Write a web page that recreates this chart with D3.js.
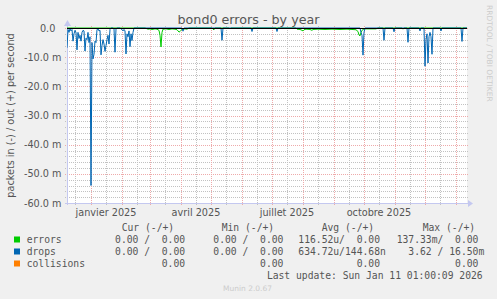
<!DOCTYPE html>
<html>
<head>
<meta charset="utf-8">
<script src="https://cdn.jsdelivr.net/npm/d3@7"></script>
<style>
  body { margin: 0; background: #f0f0f0; }
  svg text { white-space: pre; }
</style>
</head>
<body>
<div id="app"></div>
<script>
// graph covers 400 days, one value per day (milli packets / s)
const startDate = new Date(Date.UTC(2024, 11, 8, 1));
const totalDays = 400;

// drops (in, drawn negative)
const dropsDays = [0,1,2,3,4,5,6,7,8,9,10,11,12,13,14,15,16,17,18,19,20,21,22,23,24,25,26,27,28,29,
  30,31,32,33,34,35,36,37,38,39,40,41,42,43,44,46,47,48,49,50,53,54,55,56,57,58,59,60,61,62,63,64,65,66,67,
  115,116,117,154,155,156,184,185,186,209,210,211,293,294,295,296,297,298,316,317,318,326,327,328,
  340,341,342,352,353,354,357,358,359,360,361,362,363,364,365,366,373,374,375,394,395,396,400];
const dropsIn = [-6.8,-0.5,-1.5,-0.3,-1,-0.5,-4.5,-2,-0.8,-1.5,-7.5,-1.5,-3.6,-2.5,-4.5,-1.5,-0.8,-1,-7.9,-3.5,
  -4,-1.5,-5,-3,-54,-5,-10.6,-9,-4.5,-5,-0.5,-0.3,-1,-0.8,-9.2,-6,-4,-5.5,-8,-6,-4,-2.5,-5.5,-0.5,0,0,-0.3,-8.3,-0.3,0,
  0,-0.3,-0.5,-1,-0.5,-1,-8.9,-2,-3,-1,-6.4,-2,-4.3,-1.5,0,
  0,-1.1,0,0,-4.2,0,0,-1.2,0,0,-1.2,0,0,-1.5,-2.5,-9.3,-1.5,0,0,-4.2,0,0,-1.3,0,
  0,-4.9,0,0,-1.0,0,0,-13.1,-4,-2,-12,-3,-1.5,-3,-9,0,0,-1.0,0,0,-4.6,0,0];

// errors (in, drawn negative)
const errorsDays = [0,78,81,83,85,88,90,92,93,94,95,96,99,102,105,108,110,111,112,113,114,115,118,120,122,
  145,146,147,148,162,163,164,
  229,230,233,235,236,237,239,243,245,246,251,258,265,273,280,285,289,291,292,293,294,295,297,301,305,309,311,
  335,336,337,400];
const errorsIn = [0,0,-0.4,-0.3,-0.5,-0.3,-0.4,-0.8,-2.5,-6.5,-1.5,-0.4,-0.3,-0.5,-0.3,-0.4,-0.6,-1.0,-1.4,-1.2,-0.8,-0.4,-0.3,-0.4,0,
  0,-0.4,-0.6,0,0,-0.3,0,
  0,-0.4,-0.5,-0.8,-1.0,-0.6,-0.4,-0.5,-0.8,-0.5,-0.4,-0.5,-0.4,-0.5,-0.4,-0.5,-0.6,-1.2,-2.4,-2.7,-1.5,-0.8,-0.3,-0.3,-0.3,-0.3,0,
  0,-0.4,0,0];

const yTicks = [0, -10, -20, -30, -40, -50, -60];
const labelDates = ['2025-01-16', '2025-04-16', '2025-07-16', '2025-10-16'];
const labelTexts = ['janvier 2025', 'avril 2025', 'juillet 2025', 'octobre 2025'];

const seriesNames = ['errors', 'drops', 'collisions'];
const seriesColors = ['#00cc00', '#0066b3', '#ff8000'];
const curValues = [['  0.00 /', '  0.00'], ['  0.00 /', '  0.00'], ['', '  0.00']];
const minValues = [['  0.00 /', '  0.00'], ['  0.00 /', '  0.00'], ['', '  0.00']];
const avgValues = [['116.52u/', '  0.00'], ['634.72u/', '144.68n'], ['', '  0.00']];
const maxValues = [['137.33m/', '  0.00'], ['  3.62 /', ' 16.50m'], ['', '  0.00']];
const legendHeaders = ['Cur (-/+)', 'Min (-/+)', 'Avg (-/+)', 'Max (-/+)'];
const lastUpdate = 'Last update: Sun Jan 11 01:00:09 2026';

function render() {
  const width = 497, height = 299;
  const plot = { left: 67, right: 467, top: 28, bottom: 203 };
  const font = 'DejaVu Sans, sans-serif';
  const mono = 'DejaVu Sans Mono, monospace';
  const textColor = '#555';

  const svg = d3.select('#app').append('svg')
    .attr('width', width)
    .attr('height', height)
    .style('display', 'block');

  svg.append('rect').attr('width', width).attr('height', height).attr('fill', '#f0f0f0');
  svg.append('rect')
    .attr('x', plot.left).attr('y', plot.top)
    .attr('width', plot.right - plot.left).attr('height', plot.bottom - plot.top)
    .attr('fill', '#fff');

  const endDate = d3.utcDay.offset(startDate, totalDays);
  const x = d3.scaleUtc().domain([startDate, endDate]).range([plot.left, plot.right]);
  const y = d3.scaleLinear().domain([-60, 0]).range([plot.bottom, plot.top]);
  const px = v => Math.round(v) + 0.5;

  const grid = svg.append('g').attr('shape-rendering', 'crispEdges');
  const minorColor = '#c2c2c2';
  const majorColor = '#eeaaaa';

  // minor grid: every 2 m and mid-month
  const minorY = d3.range(-60, 0.1, 2).filter(v => v % 10 !== 0);
  grid.selectAll('.hminor').data(minorY).join('line')
    .attr('x1', plot.left - 2).attr('x2', plot.right + 2)
    .attr('y1', d => px(y(d))).attr('y2', d => px(y(d)))
    .attr('stroke', minorColor).attr('stroke-dasharray', '1,1');

  const months = d3.utcMonth.range(d3.utcMonth.floor(startDate), endDate);
  const midMonths = months.map(m => d3.utcDay.offset(m, 15)).filter(d => d > startDate && d < endDate);
  grid.selectAll('.vminor').data(midMonths).join('line')
    .attr('x1', d => px(x(d))).attr('x2', d => px(x(d)))
    .attr('y1', plot.top - 2).attr('y2', plot.bottom + 2)
    .attr('stroke', minorColor).attr('stroke-dasharray', '1,1');

  // major grid
  grid.selectAll('.hmajor').data(yTicks).join('line')
    .attr('x1', plot.left - 2).attr('x2', plot.right + 2)
    .attr('y1', d => px(y(d))).attr('y2', d => px(y(d)))
    .attr('stroke', majorColor).attr('stroke-dasharray', '1,1');

  const monthStarts = months.filter(d => d > startDate);
  grid.selectAll('.vmajor').data(monthStarts).join('line')
    .attr('x1', d => px(x(d))).attr('x2', d => px(x(d)))
    .attr('y1', plot.top - 2).attr('y2', plot.bottom + 2)
    .attr('stroke', majorColor).attr('stroke-dasharray', '1,1');

  // axes
  const axisColor = '#c4c8f0';
  grid.append('line')
    .attr('x1', plot.left - 2).attr('x2', plot.right + 3)
    .attr('y1', px(plot.bottom)).attr('y2', px(plot.bottom))
    .attr('stroke', axisColor);
  grid.append('line')
    .attr('x1', px(plot.left)).attr('x2', px(plot.left))
    .attr('y1', plot.bottom + 2).attr('y2', plot.top - 5)
    .attr('stroke', axisColor);
  svg.append('path')
    .attr('d', `M${plot.right + 1},${plot.bottom - 3} L${plot.right + 6},${plot.bottom + 0.5} L${plot.right + 1},${plot.bottom + 4} Z`)
    .attr('fill', axisColor);
  svg.append('path')
    .attr('d', `M${plot.left - 3},${plot.top - 2} L${plot.left + 0.5},${plot.top - 8} L${plot.left + 4},${plot.top - 2} Z`)
    .attr('fill', axisColor);

  // y labels
  svg.append('g').selectAll('text').data(yTicks).join('text')
    .attr('x', 61.5)
    .attr('y', d => y(d) + 3.5)
    .attr('text-anchor', 'end')
    .attr('font-family', font).attr('font-size', 9.7).attr('fill', textColor)
    .text(d => d === 0 ? '0.0  ' : d.toFixed(1) + ' m');

  // x labels
  svg.append('g').selectAll('text').data(labelDates).join('text')
    .attr('x', d => x(new Date(d + 'T00:00:00Z')))
    .attr('y', 216)
    .attr('text-anchor', 'middle')
    .attr('font-family', font).attr('font-size', 9.7).attr('fill', textColor)
    .text((d, i) => labelTexts[i]);

  // series
  const line = d3.line()
    .x(d => x(d3.utcDay.offset(startDate, d[0])))
    .y(d => y(d[1]));
  svg.append('clipPath').attr('id', 'clip').append('rect')
    .attr('x', plot.left).attr('y', plot.top - 1)
    .attr('width', plot.right - plot.left).attr('height', plot.bottom - plot.top + 1);

  const series = [
    { pts: errorsDays.map((d, i) => [d, errorsIn[i]]), color: seriesColors[0] },
    { pts: dropsDays.map((d, i) => [d, dropsIn[i]]), color: seriesColors[1] }
  ];
  const lines = svg.append('g').attr('clip-path', 'url(#clip)');
  series.forEach(s => {
    lines.append('path')
      .attr('d', line(s.pts))
      .attr('fill', 'none')
      .attr('stroke', s.color)
      .attr('stroke-width', 1);
  });

  // zero rule
  svg.append('line')
    .attr('x1', plot.left).attr('x2', plot.right)
    .attr('y1', px(y(0))).attr('y2', px(y(0)))
    .attr('stroke', '#000').attr('shape-rendering', 'crispEdges');

  // title and side texts
  svg.append('text')
    .attr('x', width / 2).attr('y', 24)
    .attr('text-anchor', 'middle')
    .attr('font-family', font).attr('font-size', 12.7).attr('fill', textColor)
    .text('bond0 errors - by year');

  svg.append('text')
    .attr('transform', `translate(13.5, ${(plot.top + plot.bottom) / 2}) rotate(-90)`)
    .attr('text-anchor', 'middle')
    .attr('font-family', font).attr('font-size', 9.7).attr('fill', textColor)
    .text('packets in (-) / out (+) per second');

  svg.append('text')
    .attr('transform', 'translate(486.5, 5) rotate(90)')
    .attr('font-family', font).attr('font-size', 7.5).attr('fill', '#cccccc')
    .text('RRDTOOL / TOBI OETIKER');

  svg.append('text')
    .attr('x', 247.5).attr('y', 291)
    .attr('text-anchor', 'middle')
    .attr('font-family', font).attr('font-size', 7.5).attr('fill', '#cccccc')
    .text('Munin 2.0.67');

  // legend
  const legend = svg.append('g')
    .attr('font-family', mono).attr('font-size', 9.7).attr('fill', textColor);
  const colStart = [103.4, 201.7, 298.3, 396.7];
  const headerX = [121.7, 221.7, 321.7, 422.7];
  const rowY = [243, 255, 267];
  const charW = 5.84;

  legend.selectAll('.hdr').data(legendHeaders).join('text')
    .attr('x', (d, i) => headerX[i]).attr('y', 231)
    .text(d => d);

  seriesNames.forEach((name, r) => {
    legend.append('rect')
      .attr('x', 14).attr('y', rowY[r] - 6.5)
      .attr('width', 6).attr('height', 6)
      .attr('fill', seriesColors[r]);
    legend.append('text')
      .attr('x', 26.7).attr('y', rowY[r])
      .text(name);
    [curValues, minValues, avgValues, maxValues].forEach((vals, c) => {
      const [inStr, outStr] = vals[r];
      if (inStr) {
        legend.append('text').attr('x', colStart[c]).attr('y', rowY[r]).text(inStr);
      }
      legend.append('text').attr('x', colStart[c] + 8 * charW).attr('y', rowY[r]).text(outStr);
    });
  });

  legend.append('text')
    .attr('x', 482.7).attr('y', 279)
    .attr('text-anchor', 'end')
    .text(lastUpdate);
}

render();
</script>
</body>
</html>
